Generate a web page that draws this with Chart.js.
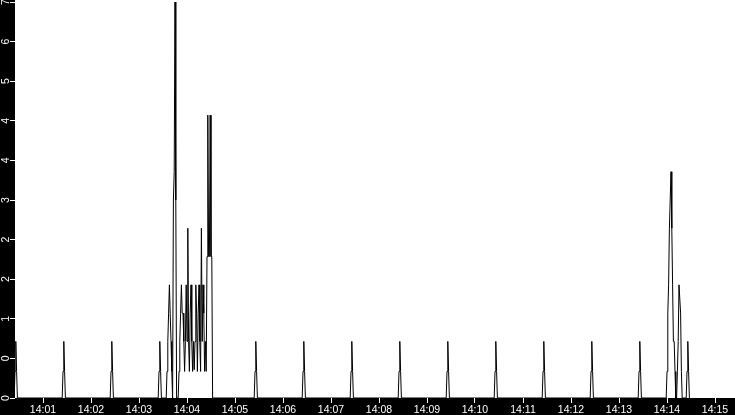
<!DOCTYPE html>
<html>
<head>
<meta charset="utf-8">
<script src="https://cdn.jsdelivr.net/npm/chart.js@4.4.1/dist/chart.umd.min.js"></script>
<style>
html,body{margin:0;padding:0;background:#000;overflow:hidden}
#wrap{position:relative;width:735px;height:415px}
</style>
</head>
<body>
<div id="wrap"><canvas id="c"></canvas></div>
<script>
// Time axis: seconds since 14:00:00
const xTickValues = [60,120,180,240,300,360,420,480,540,600,660,720,780,840,900];
const xTickLabels = ['14:01','14:02','14:03','14:04','14:05','14:06','14:07','14:08','14:09','14:10','14:11','14:12','14:13','14:14','14:15'];
const yTickValues = [0,0.7,1.4,2.1,2.8,3.5,4.2,4.9,5.6,6.3,7];
const yTickLabels = ['0','0','1','2','2','3','4','4','5','6','7'];

// Periodic once-a-minute pulses
const pulseSeconds = [
  24,25,26,27,28, 84,85,86,87,88, 144,145,146,147,148, 204,205,206,207,208,
  324,325,326,327,328, 384,385,386,387,388, 444,445,446,447,448,
  504,505,506,507,508, 564,565,566,567,568, 624,625,626,627,628,
  684,685,686,687,688, 744,745,746,747,748, 804,805,806,807,808,
  864,865,866,867,868
];
const pulseValues = [
  0,0.47,1,0.47,0, 0,0.47,1,0.47,0, 0,0.47,1,0.47,0, 0,0.47,1,0.47,0,
  0,0.47,1,0.47,0, 0,0.47,1,0.47,0, 0,0.47,1,0.47,0,
  0,0.47,1,0.47,0, 0,0.47,1,0.47,0, 0,0.47,1,0.47,0,
  0,0.47,1,0.47,0, 0,0.47,1,0.47,0, 0,0.47,1,0.47,0,
  0,0.47,1,0.47,0
];

// Burst around 14:03:35 - 14:04:32
const burst1Seconds = [212,213,214,215,216,217,218,219,220,221,222,223,224,225,226,227,228,229,230,231,232,233,234,235,236,237,238,239,240,241,242,243,244,245,246,247,248,249,250,251,252,253,254,255,256,257,258,259,260,261,262,263,264,265,266,267,268,269,270,271,272];
const burst1Values  = [0,0,0,0.47,1,1.5,2,1.5,1,0.47,0,3.5,4,7,3.5,0,0,0,0.47,1,1.5,2,1.5,1.5,1,0.47,1,2,1,3,1,0.47,1.5,2,1,0.47,1,0.5,1,2,1.5,0.47,1.5,2,1,0.47,3,1,2,1.5,0.47,1,0.47,2.5,5,2.5,2.5,5,2.5,2.5,0];

// Burst around 14:14
const burst2Seconds = [838,839,840,841,842,843,844,845,846,847,848,849,850,851,852,853,854,855,856,857,858,859];
const burst2Values  = [0,0,0.47,1.5,2,3,3.5,4,3,2,1,1,0.47,0,0,0.47,1,2,2,1.5,0.47,0];

const points = [];
pulseSeconds.forEach((t,i)=>points.push({x:t,y:pulseValues[i]}));
burst1Seconds.forEach((t,i)=>points.push({x:t,y:burst1Values[i]}));
burst2Seconds.forEach((t,i)=>points.push({x:t,y:burst2Values[i]}));
points.sort((a,b)=>a.x-b.x);

const bgPlugin = {
  id:'bg',
  beforeDraw(chart){
    const {ctx, chartArea:a} = chart;
    ctx.save();
    ctx.fillStyle = '#000';
    ctx.fillRect(0,0,chart.width,chart.height);
    ctx.fillStyle = '#fff';
    ctx.fillRect(a.left,0,a.right-a.left,a.bottom);
    ctx.restore();
  }
};

const tickFont = {family:'Liberation Sans', size:10.5};

new Chart(document.getElementById('c'), {
  type:'line',
  data:{datasets:[{
    data:points,
    borderColor:'#000',
    borderWidth:1,
    pointRadius:0,
    tension:0,
    fill:false
  }]},
  options:{
    responsive:true,
    maintainAspectRatio:false,
    animation:false,
    layout:{padding:{top:2,left:0,right:0,bottom:0}},
    plugins:{legend:{display:false}, tooltip:{enabled:false}},
    scales:{
      x:{
        type:'linear', min:25, max:925,
        afterBuildTicks(s){ s.ticks = xTickValues.map(v=>({value:v})); },
        afterFit(s){ s.height = 17; s.paddingLeft = 0; s.paddingRight = 0; },
        grid:{drawOnChartArea:false, color:'#fff', tickLength:5, tickWidth:1},
        border:{display:false},
        ticks:{color:'#fff', font:tickFont, padding:1, minRotation:0, maxRotation:0, autoSkip:false,
               callback:(v,i)=>xTickLabels[i]}
      },
      y:{
        type:'linear', min:0, max:7,
        afterBuildTicks(s){ s.ticks = yTickValues.map(v=>({value:v})); },
        afterFit(s){ s.width = 15; s.paddingTop = 0; s.paddingBottom = 0; },
        grid:{drawOnChartArea:false, color:'#fff', tickLength:5, tickWidth:1},
        border:{display:false},
        ticks:{color:'#fff', font:tickFont, padding:1, minRotation:90, maxRotation:90, crossAlign:'center', autoSkip:false,
               callback:(v,i)=>yTickLabels[i]}
      }
    }
  },
  plugins:[bgPlugin]
});
</script>
</body>
</html>
